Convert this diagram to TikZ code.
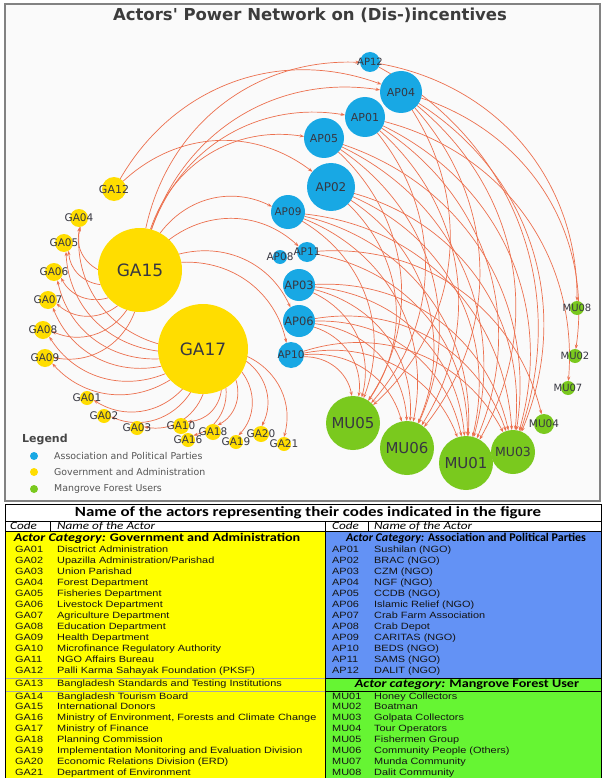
\documentclass[tikz,border=0pt]{standalone}
\usepackage{fontspec}
\setmainfont{Liberation Sans}
\newfontfamily\dvs{DejaVu Sans}
\newfontfamily\tabf[FakeStretch=1.2]{Liberation Sans}
\newfontfamily\carls[FakeStretch=1.2]{Carlito}
\newfontfamily\carln[FakeStretch=1.02]{Carlito}
\usetikzlibrary{arrows.meta}
\definecolor{apblue}{RGB}{24,168,228}
\definecolor{gayel}{RGB}{255,221,0}
\definecolor{mugrn}{RGB}{122,201,30}
\definecolor{edgec}{RGB}{236,112,78}
\definecolor{lblc}{RGB}{55,55,65}
\definecolor{tyel}{RGB}{255,255,0}
\definecolor{tblue}{RGB}{99,146,245}
\definecolor{tgrn}{RGB}{102,245,51}
\definecolor{panelbg}{RGB}{250,250,250}
\definecolor{framec}{RGB}{130,130,130}
\pgfdeclarelayer{back}
\pgfdeclarelayer{edges}
\pgfsetlayers{back,edges,main}
\newcommand\tabrowL[3]{\node[rowt] (c#1) at (15,#3) {#1}; \node[rowt] (n#1) at (57,#3) {#2};}
\newcommand\tabrowR[3]{\node[rowt] (c#1) at (332,#3) {#1}; \node[rowt] (n#1) at (374,#3) {#2};}
\begin{document}
\begin{tikzpicture}[x=1pt,y=-1pt,
  nd/.style={circle, inner sep=0pt, outer sep=0pt, minimum size=2*#1, draw=none},
  lbl/.style={font=\dvs\fontsize{#1}{#1}\selectfont, text=lblc, inner sep=0pt},
  ed/.style={draw=edgec, line width=0.7pt, -{Stealth[length=4.5pt,width=3.2pt]}, bend left=40},
  rowt/.style={anchor=west, inner sep=0pt, font=\tabf\fontsize{9.1}{9.1}\selectfont, text={rgb,255:red,20;green,20;blue,20}, text height=6.8pt, text depth=1.9pt},
  hdr/.style={anchor=west, inner sep=0pt, font=\carls\itshape\fontsize{11}{11}\selectfont, text height=7.5pt, text depth=2pt},
  cat/.style={inner sep=0pt, font=\carls\fontsize{#1}{#1}\selectfont, text height=7.8pt, text depth=2pt},
  legt/.style={anchor=west, inner sep=0pt, font=\dvs\fontsize{9.4}{9.4}\selectfont, text={rgb,255:red,85;green,85;blue,85}},
  legd/.style={circle, inner sep=0pt, minimum size=8pt, fill=#1}
]
\useasboundingbox (0,0) rectangle (602,778);
\begin{pgfonlayer}{back}
\fill[white] (0,0) rectangle (602,778);
\draw[fill=panelbg, draw=framec, line width=1.5pt] (5,4) rectangle (600,501);
\end{pgfonlayer}

\node[font=\dvs\bfseries\fontsize{16.5}{16.5}\selectfont, text={rgb,255:red,60;green,60;blue,60}] (title) at (310,15) {Actors' Power Network on (Dis-)incentives};

% AP nodes
\foreach \n/\x/\y/\r/\s in {AP12/370/62/10/10, AP04/401/92/21/11, AP01/365/117/20/11, AP05/324/138/20/11, AP02/331/187/24/12, AP09/288/212/17/10.5, AP08/280/257/7/10.5, AP11/307/252/10/10.5, AP03/299/285/16/11.5, AP06/299/321/16/11.5, AP10/291/355/13/10.5}
  {\node[nd=\r, fill=apblue] (\n) at (\x,\y) {}; \node[lbl=\s] (l\n) at (\x,\y) {\n};}
% GA nodes
\foreach \n/\x/\y/\r/\s in {GA12/114/189/12/11, GA04/79/218/9/10.5, GA05/64/243/9/10.5, GA06/54/272/9/10.5, GA07/48/300/9/10.5, GA08/43/330/9/10.5, GA09/45/358/9/10.5, GA15/140/270/42/17, GA17/203/349/45/17, GA01/87/398/7/10.5, GA02/104/416/7/10.5, GA03/137/428/7/10.5, GA10/181/426/8/10.5, GA16/188/440/7/10.5, GA18/213/432/8/10.5, GA19/236/442/7/10.5, GA20/261/434/8/10.5, GA21/284/444/7/10.5}
  {\node[nd=\r, fill=gayel] (\n) at (\x,\y) {}; \node[lbl=\s] (l\n) at (\x,\y) {\n};}
% MU nodes
\foreach \n/\x/\y/\r/\s in {MU08/577/308/7/10, MU02/575/356/7/10, MU07/568/388/7/10, MU04/544/424/10/10.5, MU05/353/423/27/15, MU06/407/448/27/15, MU01/466/463/27/15, MU03/513/452/22/12.5}
  {\node[nd=\r, fill=mugrn] (\n) at (\x,\y) {}; \node[lbl=\s] (l\n) at (\x,\y) {\n};}

\begin{pgfonlayer}{edges}
\foreach \a/\b in {GA15/GA04, GA15/GA05, GA15/GA06, GA15/GA07, GA15/GA08, GA15/GA09,
  GA17/GA04, GA17/GA05, GA17/GA06, GA17/GA07, GA17/GA08, GA17/GA09, GA17/GA01, GA17/GA02, GA17/GA03, GA17/GA10, GA17/GA16, GA17/GA18, GA17/GA19, GA17/GA20, GA17/GA21,
  GA15/AP12, GA15/AP04, GA15/AP01, GA15/AP05, GA15/AP09, GA15/AP11, GA15/AP06, GA15/AP10,
  GA12/AP04, GA12/AP02,
  AP04/MU05, AP04/MU06, AP04/MU01, AP04/MU03, AP04/MU02,
  AP01/MU05, AP01/MU06, AP01/MU01, AP01/MU03, AP01/MU07,
  AP05/MU05, AP05/MU06, AP05/MU01, AP05/MU03,
  AP02/MU05, AP02/MU06, AP02/MU01, AP02/MU03,
  AP09/MU05, AP09/MU06, AP09/MU01, AP09/MU03,
  AP11/MU01, AP11/MU04,
  AP03/MU05, AP03/MU06, AP03/MU01, AP03/MU03,
  AP06/MU05, AP06/MU06, AP06/MU01, AP06/MU03,
  AP10/MU05, AP10/MU06, AP10/MU01, AP10/MU03,
  AP12/MU08, AP12/MU03}
  {\draw[ed] (\a) to (\b);}
\end{pgfonlayer}

% legend
\node[anchor=west, inner sep=0pt, font=\dvs\bfseries\fontsize{11}{11}\selectfont, text={rgb,255:red,70;green,70;blue,70}] (leg) at (22,440) {Legend};
\node[legd=apblue] (d1) at (34,456) {};
\node[legd=gayel] (d2) at (34,472) {};
\node[legd=mugrn] (d3) at (34,489) {};
\node[legt] (t1) at (54,456) {Association and Political Parties};
\node[legt] (t2) at (54,472) {Government and Administration};
\node[legt] (t3) at (54,489) {Mangrove Forest Users};

% table
\fill[tyel] (6,532) rectangle (324.5,778);
\fill[tblue] (325.5,532) rectangle (601,678);
\fill[tgrn] (325.5,678) rectangle (601,778);
\draw[line width=0.9pt] (5,504) -- (601.5,504);
\draw[line width=0.9pt] (5.5,504) -- (5.5,778);
\draw[line width=0.9pt] (601.2,504) -- (601.2,778);
\draw[line width=0.7pt] (5,521) -- (601.5,521);
\draw[line width=0.7pt] (5,531.5) -- (601.5,531.5);
\draw[line width=0.8pt] (325,521) -- (325,778);
\draw[line width=0.6pt] (50,521) -- (50,531.5);
\draw[line width=0.6pt] (368,521) -- (368,531.5);
\draw[line width=0.7pt] (325.5,678) -- (601,678);
\draw[line width=0.7pt] (325.5,691) -- (601,691);
\draw[line width=0.3pt, black!35] (6,678) -- (324.5,678);
\draw[line width=0.3pt, black!35] (6,691) -- (324.5,691);

\node[font=\carls\bfseries\fontsize{14.1}{14.1}\selectfont, inner sep=0pt] (ttl) at (308,512.5) {Name of the actors representing their codes indicated in the figure};
\node[hdr] (hc1) at (10,526.5) {Code};
\node[hdr] (hn1) at (57,526.5) {Name of the Actor};
\node[hdr] (hc2) at (332,526.5) {Code};
\node[hdr] (hn2) at (374,526.5) {Name of the Actor};
\node[cat=11.8] (cat1) at (157,538.5) {\textbf{\textit{Actor Category:}} \textbf{Government and Administration}};
\node[inner sep=0pt, font=\carln\fontsize{11.8}{11.8}\selectfont, text height=7.8pt, text depth=2pt] (cat2) at (466,538.5) {\textbf{\textit{Actor Category:}} \textbf{Association and Political Parties}};
\node[cat=11.8] (cat3) at (467,684.5) {\textbf{\textit{Actor category:}} \textbf{Mangrove Forest User}};

\tabrowL{GA01}{Disctrict Administration}{550}
\tabrowL{GA02}{Upazilla Administration/Parishad}{561}
\tabrowL{GA03}{Union Parishad}{572}
\tabrowL{GA04}{Forest Department}{583}
\tabrowL{GA05}{Fisheries Department}{594}
\tabrowL{GA06}{Livestock Department}{605}
\tabrowL{GA07}{Agriculture Department}{616}
\tabrowL{GA08}{Education Department}{627}
\tabrowL{GA09}{Health Department}{638}
\tabrowL{GA10}{Microfinance Regulatory Authority}{649}
\tabrowL{GA11}{NGO Affairs Bureau}{660}
\tabrowL{GA12}{Palli Karma Sahayak Foundation (PKSF)}{671}
\tabrowL{GA13}{Bangladesh Standards and Testing Institutions}{684.5}
\tabrowL{GA14}{Bangladesh Tourism Board}{697}
\tabrowL{GA15}{International Donors}{707.5}
\tabrowL{GA16}{Ministry of Environment, Forests and Climate Change}{718.5}
\tabrowL{GA17}{Ministry of Finance}{729}
\tabrowL{GA18}{Planning Commission}{740}
\tabrowL{GA19}{Implementation Monitoring and Evaluation Division}{751}
\tabrowL{GA20}{Economic Relations Division (ERD)}{762}
\tabrowL{GA21}{Department of Environment}{773}

\tabrowR{AP01}{Sushilan (NGO)}{550}
\tabrowR{AP02}{BRAC (NGO)}{561}
\tabrowR{AP03}{CZM (NGO)}{572}
\tabrowR{AP04}{NGF (NGO)}{583}
\tabrowR{AP05}{CCDB (NGO)}{594}
\tabrowR{AP06}{Islamic Relief (NGO)}{605}
\tabrowR{AP07}{Crab Farm Association}{616}
\tabrowR{AP08}{Crab Depot}{627}
\tabrowR{AP09}{CARITAS (NGO)}{638}
\tabrowR{AP10}{BEDS (NGO)}{649}
\tabrowR{AP11}{SAMS (NGO)}{660}
\tabrowR{AP12}{DALIT (NGO)}{671}
\tabrowR{MU01}{Honey Collectors}{697}
\tabrowR{MU02}{Boatman}{707.5}
\tabrowR{MU03}{Golpata Collectors}{718.5}
\tabrowR{MU04}{Tour Operators}{729}
\tabrowR{MU05}{Fishermen Group}{740}
\tabrowR{MU06}{Community People (Others)}{751}
\tabrowR{MU07}{Munda Community}{762}
\tabrowR{MU08}{Dalit Community}{773}
\end{tikzpicture}
\end{document}
